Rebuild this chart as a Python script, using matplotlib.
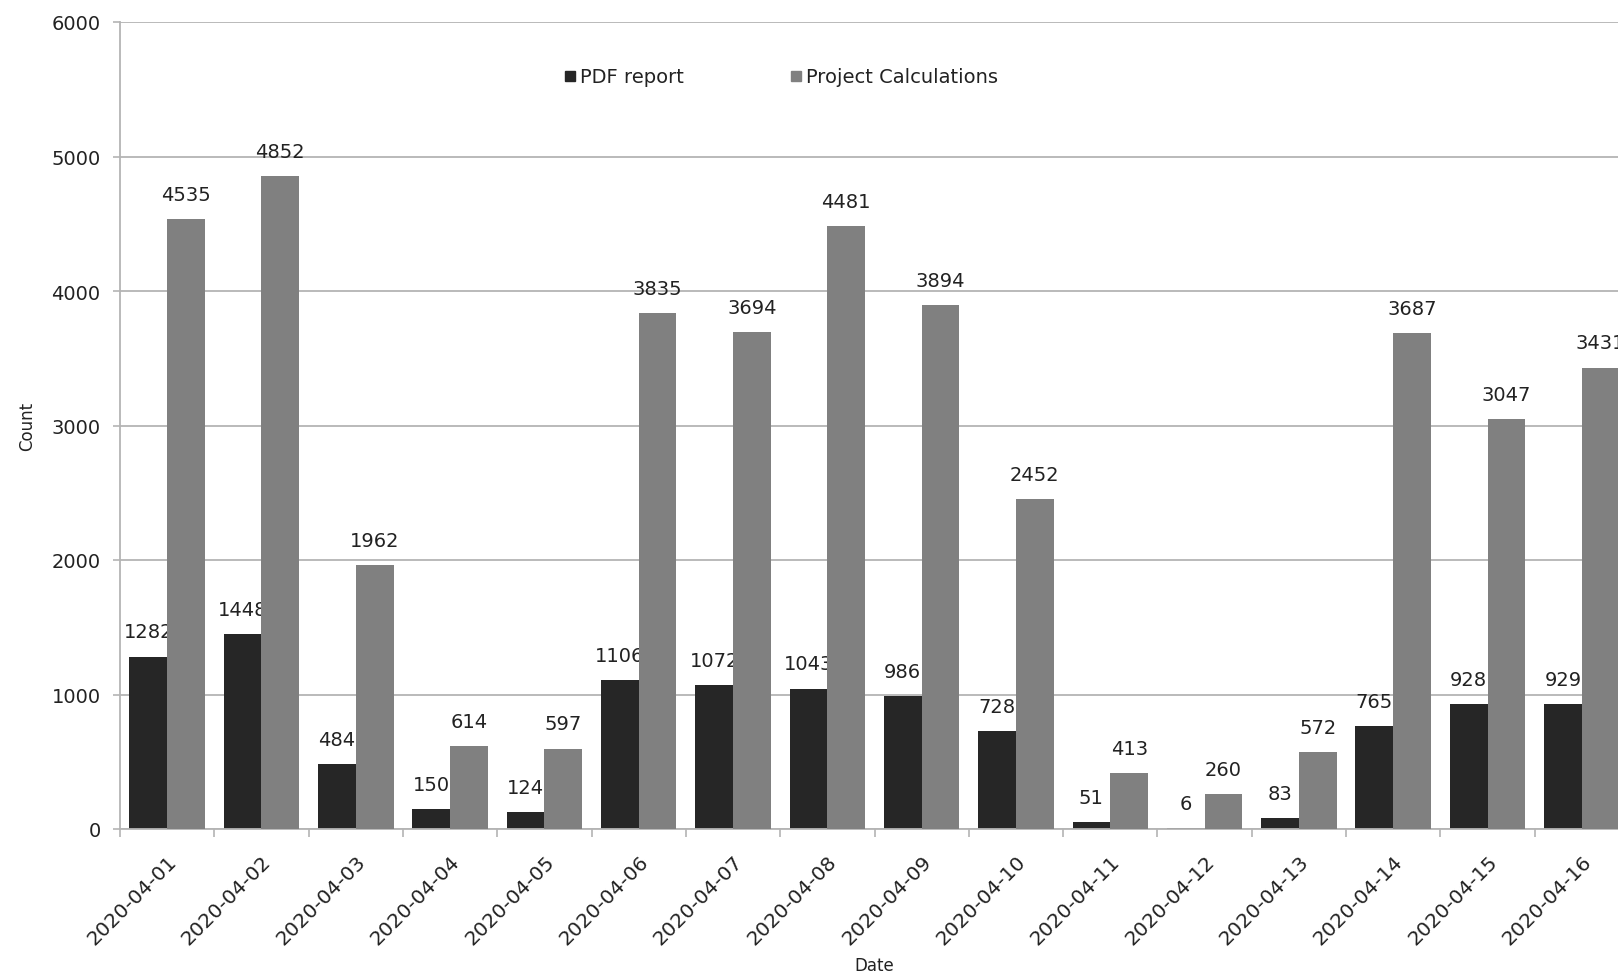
import matplotlib.pyplot as plt
from matplotlib.lines import Line2D
import numpy as np

plt.rcParams['font.family'] = ['DejaVu Sans']

dates = ['2020-04-01', '2020-04-02', '2020-04-03', '2020-04-04', '2020-04-05',
         '2020-04-06', '2020-04-07', '2020-04-08', '2020-04-09', '2020-04-10',
         '2020-04-11', '2020-04-12', '2020-04-13', '2020-04-14', '2020-04-15',
         '2020-04-16']
pdf_report = [1282, 1448, 484, 150, 124, 1106, 1072, 1043, 986, 728,
              51, 6, 83, 765, 928, 929]
project_calc = [4535, 4852, 1962, 614, 597, 3835, 3694, 4481, 3894, 2452,
                413, 260, 572, 3687, 3047, 3431]

c_pdf = '#262626'
c_proj = '#808080'
txt = '#222222'

fig = plt.figure(figsize=(16.18, 9.79), dpi=100)
# the plot runs past the right edge of the figure
ax = fig.add_axes([120 / 1618, 1 - 830 / 979, 1509 / 1618, 807 / 979])

x = np.arange(len(dates))
w = 0.4
b1 = ax.bar(x - w / 2, pdf_report, w, color=c_pdf, zorder=2)
b2 = ax.bar(x + w / 2, project_calc, w, color=c_proj, zorder=4)

for rect, v in zip(b1, pdf_report):
    ax.annotate(str(v), (rect.get_x() + rect.get_width() / 2, v),
                xytext=(0, 11), textcoords='offset points',
                ha='center', va='bottom', fontsize=14, color=txt, zorder=3)
for rect, v in zip(b2, project_calc):
    ax.annotate(str(v), (rect.get_x() + rect.get_width() / 2, v),
                xytext=(0, 11), textcoords='offset points',
                ha='center', va='bottom', fontsize=14, color=txt, zorder=5)

ax.set_xlim(-0.5, len(dates) - 0.5)
ax.set_ylim(0, 6000)
ax.set_yticks(range(0, 6001, 1000))
ax.yaxis.grid(True, color='#b4b4b4', lw=1.3, zorder=0)
ax.set_axisbelow(True)

ax.set_xticks(x)
ax.set_xticklabels(dates, rotation=45, ha='right', va='top',
                   rotation_mode='anchor', fontsize=14.5, color=txt)
ax.set_xticks(np.arange(-0.5, len(dates), 1), minor=True)
ax.tick_params(axis='x', which='major', length=0, pad=16)
ax.tick_params(axis='x', which='minor', length=6, width=1.2, color='#b4b4b4')
ax.tick_params(axis='y', length=5, width=1.2, color='#b4b4b4', pad=9,
               labelsize=14, labelcolor=txt)

for s in ['top', 'right']:
    ax.spines[s].set_visible(False)
for s in ['left', 'bottom']:
    ax.spines[s].set_color('#b4b4b4')
    ax.spines[s].set_linewidth(1.3)

ax.set_ylabel('Count', fontsize=12, color=txt, labelpad=11)
ax.set_xlabel('Date', fontsize=12, color=txt, va='center')
ax.xaxis.set_label_coords(0.5, -0.168)

handles = [Line2D([], [], marker='s', ls='none', color=c_pdf, markersize=7),
           Line2D([], [], marker='s', ls='none', color=c_proj, markersize=7)]
ax.legend(handles, ['PDF report', 'Project Calculations'], ncol=2,
          loc='center', bbox_to_anchor=(0.438, 0.932), frameon=False,
          fontsize=14, handlelength=0.6, handletextpad=0.2,
          columnspacing=5.5, labelcolor=txt)

fig.savefig('out.png', dpi=100)
